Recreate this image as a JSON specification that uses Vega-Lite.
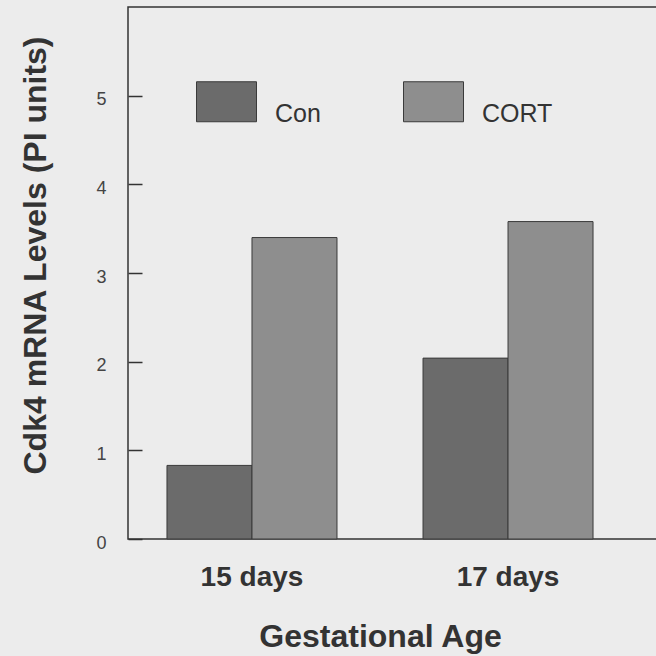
{
  "$schema": "https://vega.github.io/schema/vega-lite/v6.json",
  "width": 530,
  "height": 532,
  "autosize": {"type": "none"},
  "padding": {"left": 128, "top": 7, "right": 0, "bottom": 117},
  "background": "#ececec",
  "config": {"font": "Liberation Sans", "view": {"stroke": "#333333", "strokeWidth": 1.5}},
  "data": {"values": [
    {"age": "15 days", "group": "Con", "value": 0.83},
    {"age": "15 days", "group": "CORT", "value": 3.40},
    {"age": "17 days", "group": "Con", "value": 2.04},
    {"age": "17 days", "group": "CORT", "value": 3.58}
  ]},
  "mark": {"type": "bar", "stroke": "#3a3a3a", "strokeWidth": 1},
  "encoding": {
    "x": {
      "field": "age", "type": "nominal", "sort": ["15 days", "17 days"],
      "scale": {"paddingInner": 0.336, "paddingOuter": 0.203, "align": 0.375},
      "axis": {
        "title": "Gestational Age", "labelAngle": 0, "ticks": false, "domain": false,
        "labelFontSize": 28, "labelFontWeight": "bold", "labelColor": "#333333", "labelPadding": 24,
        "titleFontSize": 32, "titleFontWeight": "bold", "titleColor": "#333333",
        "titleX": 252, "titleY": 107, "titleBaseline": "alphabetic", "titleAlign": "center"
      }
    },
    "xOffset": {"field": "group", "sort": ["Con", "CORT"], "scale": {"paddingInner": 0, "paddingOuter": 0}},
    "y": {
      "field": "value", "type": "quantitative",
      "scale": {"domain": [0, 6], "nice": false},
      "axis": {
        "title": "Cdk4 mRNA Levels (PI units)", "values": [0, 1, 2, 3, 4, 5], "grid": false, "domain": false,
        "tickSize": -14, "tickColor": "#333333", "tickWidth": 1.5,
        "labelFontSize": 18, "labelColor": "#444444", "labelPadding": 36, "labelBaseline": "middle", "labelOffset": 4,
        "titleFontSize": 32, "titleFontWeight": "bold", "titleColor": "#333333", "titleAngle": -90,
        "titleX": -83, "titleY": 248, "titleBaseline": "alphabetic", "titleAlign": "center"
      }
    },
    "fill": {
      "field": "group", "type": "nominal",
      "scale": {"domain": ["Con", "CORT"], "range": ["#6b6b6b", "#8e8e8e"]},
      "legend": {
        "title": null, "orient": "none", "direction": "horizontal", "legendX": 78, "legendY": 74,
        "symbolType": "M-1.5,-1H1.5V1H-1.5Z", "symbolSize": 1600,
        "symbolStrokeColor": "#3a3a3a", "symbolStrokeWidth": 1, "symbolOpacity": 1,
        "labelFontSize": 25, "labelColor": "#333333", "labelOffset": 28, "labelBaseline": "top",
        "columnPadding": 80, "padding": 0
      }
    }
  }
}
